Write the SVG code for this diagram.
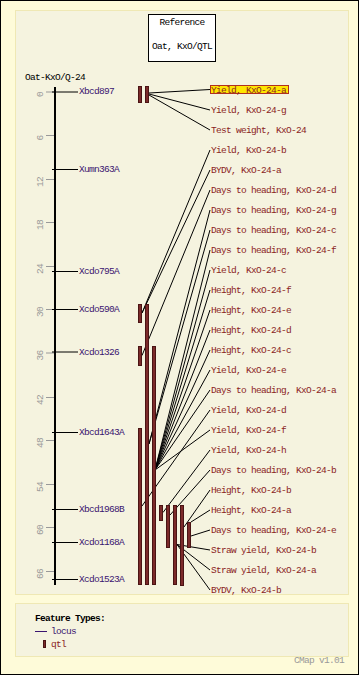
<svg xmlns="http://www.w3.org/2000/svg" width="359" height="675" viewBox="0 0 359 675">
<style>
text{font-family:"Liberation Mono","DejaVu Sans Mono",monospace;font-size:9.5px;letter-spacing:-0.7px}
.loc{fill:#3a1470}
.qt{fill:#8b2424}
.sc{fill:#999999}
.tk{stroke:#999999;stroke-width:1}
.bar{fill:#7c2a2a;stroke:#4a1414;stroke-width:1}
.cn line{stroke:#000;stroke-width:1}
.ll{stroke:#000;stroke-width:1}
</style>
<rect x="0.5" y="0.5" width="358" height="674" fill="#fefbd9" stroke="#000"/>
<rect x="15.5" y="10.5" width="333" height="584" fill="#f5f3df" stroke="#efe8b4"/>
<rect x="15.5" y="603.5" width="333" height="53" fill="#f5f3df" stroke="#efe8b4"/>
<g id="reference">
<rect x="148.5" y="14.5" width="67" height="47" fill="#fff" stroke="#000"/>
<text x="182" y="25" text-anchor="middle" fill="#000">Reference</text>
<text x="182" y="48.5" text-anchor="middle" fill="#000">Oat, KxO/QTL</text>
</g>
<g id="map-title"><text x="25" y="80" fill="#000">Oat-KxO/Q-24</text></g>
<g id="axis">
<line x1="55" y1="87" x2="55" y2="585" stroke="#000" stroke-width="2"/>
<line class="tk" x1="46" y1="92" x2="54" y2="92"/>
<line class="tk" x1="46" y1="135.5" x2="54" y2="135.5"/>
<line class="tk" x1="46" y1="179.5" x2="54" y2="179.5"/>
<line class="tk" x1="46" y1="222.5" x2="54" y2="222.5"/>
<line class="tk" x1="46" y1="266.5" x2="54" y2="266.5"/>
<line class="tk" x1="46" y1="309.5" x2="54" y2="309.5"/>
<line class="tk" x1="46" y1="353" x2="54" y2="353"/>
<line class="tk" x1="46" y1="397.5" x2="54" y2="397.5"/>
<line class="tk" x1="46" y1="440.5" x2="54" y2="440.5"/>
<line class="tk" x1="46" y1="484.5" x2="54" y2="484.5"/>
<line class="tk" x1="46" y1="527.5" x2="54" y2="527.5"/>
<line class="tk" x1="46" y1="571.5" x2="54" y2="571.5"/>
<g class="sc" text-anchor="middle" dominant-baseline="central">
<text transform="translate(40,94.5) rotate(-90)">0</text>
<text transform="translate(40,138) rotate(-90)">6</text>
<text transform="translate(40,182) rotate(-90)">12</text>
<text transform="translate(40,225) rotate(-90)">18</text>
<text transform="translate(40,269) rotate(-90)">24</text>
<text transform="translate(40,312) rotate(-90)">30</text>
<text transform="translate(40,355.5) rotate(-90)">36</text>
<text transform="translate(40,400) rotate(-90)">42</text>
<text transform="translate(40,443) rotate(-90)">48</text>
<text transform="translate(40,487) rotate(-90)">54</text>
<text transform="translate(40,530) rotate(-90)">60</text>
<text transform="translate(40,574) rotate(-90)">66</text>
</g>
</g>
<g id="loci">
<g id="Xbcd897"><line class="ll" x1="52" y1="92" x2="78" y2="92"/><text class="loc" x="79" y="94">Xbcd897</text></g>
<g id="Xumn363A"><line class="ll" x1="52" y1="169.5" x2="78" y2="169.5"/><text class="loc" x="79" y="172">Xumn363A</text></g>
<g id="Xcdo795A"><line class="ll" x1="52" y1="271.5" x2="78" y2="271.5"/><text class="loc" x="79" y="274">Xcdo795A</text></g>
<g id="Xcdo590A"><line class="ll" x1="52" y1="309.5" x2="78" y2="309.5"/><text class="loc" x="79" y="312">Xcdo590A</text></g>
<g id="Xcdo1326"><line class="ll" x1="52" y1="352" x2="78" y2="352"/><text class="loc" x="79" y="354.5">Xcdo1326</text></g>
<g id="Xbcd1643A"><line class="ll" x1="52" y1="432.5" x2="78" y2="432.5"/><text class="loc" x="79" y="435">Xbcd1643A</text></g>
<g id="Xbcd1968B"><line class="ll" x1="52" y1="509.5" x2="78" y2="509.5"/><text class="loc" x="79" y="512">Xbcd1968B</text></g>
<g id="Xcdo1168A"><line class="ll" x1="52" y1="542.5" x2="78" y2="542.5"/><text class="loc" x="79" y="545">Xcdo1168A</text></g>
<g id="Xcdo1523A"><line class="ll" x1="52" y1="579.5" x2="78" y2="579.5"/><text class="loc" x="79" y="582">Xcdo1523A</text></g>
</g>
<g id="connectors" class="cn">
<line x1="149" y1="93" x2="210" y2="89.5"/>
<line x1="149" y1="94" x2="210" y2="110"/>
<line x1="149" y1="95" x2="210" y2="130"/>
<line x1="142" y1="313" x2="210" y2="150"/>
<line x1="142" y1="313" x2="210" y2="170"/>
<line x1="142" y1="355.5" x2="210" y2="190"/>
<line x1="149" y1="444" x2="210" y2="210"/>
<line x1="149" y1="444" x2="210" y2="230"/>
<line x1="155" y1="470" x2="210" y2="250"/>
<line x1="155" y1="470" x2="210" y2="270"/>
<line x1="155" y1="470" x2="210" y2="290"/>
<line x1="155" y1="470" x2="210" y2="310"/>
<line x1="155" y1="470" x2="210" y2="330"/>
<line x1="155" y1="470" x2="210" y2="350"/>
<line x1="155" y1="470" x2="210" y2="370"/>
<line x1="155" y1="470" x2="210" y2="390"/>
<line x1="142" y1="506" x2="210" y2="410"/>
<line x1="155" y1="470" x2="210" y2="430"/>
<line x1="163" y1="512.5" x2="210" y2="450"/>
<line x1="170" y1="515" x2="210" y2="470"/>
<line x1="184" y1="527" x2="210" y2="490"/>
<line x1="191" y1="522" x2="210" y2="510"/>
<line x1="191" y1="536" x2="210" y2="530"/>
<line x1="177" y1="544.5" x2="210" y2="550"/>
<line x1="177" y1="544.5" x2="210" y2="570"/>
<line x1="177" y1="544.5" x2="210" y2="590"/>
</g>
<g id="qtls">
<rect class="bar" x="138.5" y="86.5" width="3" height="16"/>
<rect class="bar" x="145.5" y="86.5" width="3" height="16"/>
<rect class="bar" x="138.5" y="304.5" width="3" height="18"/>
<rect class="bar" x="138.5" y="346.5" width="3" height="19"/>
<rect class="bar" x="138.5" y="428.5" width="3" height="156"/>
<rect class="bar" x="145.5" y="304.5" width="3" height="280"/>
<rect class="bar" x="152.5" y="346.5" width="3" height="238"/>
<rect class="bar" x="159.5" y="505.5" width="3" height="15"/>
<rect class="bar" x="166.5" y="505.5" width="3" height="42"/>
<rect class="bar" x="173.5" y="505.5" width="3" height="79"/>
<rect class="bar" x="180.5" y="505.5" width="3" height="80"/>
<rect class="bar" x="187.5" y="522.5" width="3" height="25"/>
</g>
<g id="labels" class="qt">
<rect x="210.5" y="85.5" width="78" height="8" fill="#ffe600" stroke="#b03020"/>
<text x="211" y="92.5">Yield, KxO-24-a</text>
<text x="211" y="112.5">Yield, KxO-24-g</text>
<text x="211" y="132.5">Test weight, KxO-24</text>
<text x="211" y="152.5">Yield, KxO-24-b</text>
<text x="211" y="172.5">BYDV, KxO-24-a</text>
<text x="211" y="192.5">Days to heading, KxO-24-d</text>
<text x="211" y="212.5">Days to heading, KxO-24-g</text>
<text x="211" y="232.5">Days to heading, KxO-24-c</text>
<text x="211" y="252.5">Days to heading, KxO-24-f</text>
<text x="211" y="272.5">Yield, KxO-24-c</text>
<text x="211" y="292.5">Height, KxO-24-f</text>
<text x="211" y="312.5">Height, KxO-24-e</text>
<text x="211" y="332.5">Height, KxO-24-d</text>
<text x="211" y="352.5">Height, KxO-24-c</text>
<text x="211" y="372.5">Yield, KxO-24-e</text>
<text x="211" y="392.5">Days to heading, KxO-24-a</text>
<text x="211" y="412.5">Yield, KxO-24-d</text>
<text x="211" y="432.5">Yield, KxO-24-f</text>
<text x="211" y="452.5">Yield, KxO-24-h</text>
<text x="211" y="472.5">Days to heading, KxO-24-b</text>
<text x="211" y="492.5">Height, KxO-24-b</text>
<text x="211" y="512.5">Height, KxO-24-a</text>
<text x="211" y="532.5">Days to heading, KxO-24-e</text>
<text x="211" y="552.5">Straw yield, KxO-24-b</text>
<text x="211" y="572.5">Straw yield, KxO-24-a</text>
<text x="211" y="592.5">BYDV, KxO-24-b</text>
</g>
<g id="legend">
<text x="35" y="620.5" fill="#000" font-weight="bold">Feature Types:</text>
<line x1="35" y1="631.5" x2="47" y2="631.5" stroke="#3a1470"/>
<text class="loc" x="51" y="634">locus</text>
<rect class="bar" x="43.5" y="640.5" width="2" height="7"/>
<text class="qt" x="51" y="647">qtl</text>
<text x="294" y="663" fill="#999">CMap v1.01</text>
</g>
</svg>
